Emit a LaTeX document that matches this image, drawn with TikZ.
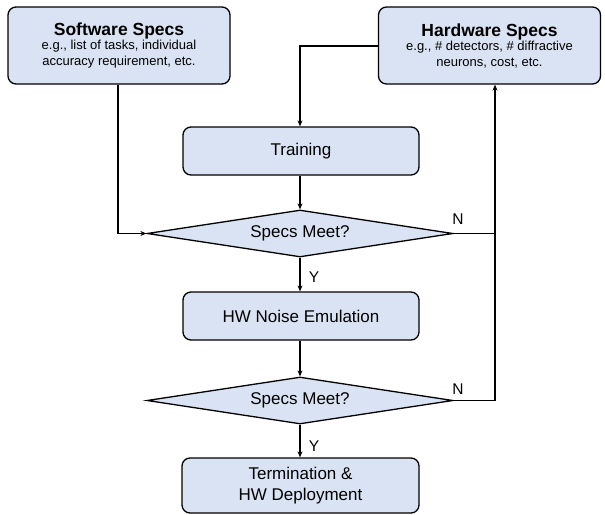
\documentclass[tikz,border=0pt]{standalone}
\usepackage{fontspec}
\setmainfont{Liberation Sans}
\usetikzlibrary{shapes.geometric,arrows.meta}
\definecolor{boxfill}{RGB}{218,227,243}
\tikzset{
  proc/.style={draw=black, line width=1.3pt, fill=boxfill, rounded corners=8pt, align=center, inner sep=0pt},
  dec/.style={draw=black, line width=1.3pt, fill=boxfill, diamond, aspect=6.5, inner sep=0pt, minimum width=306pt, minimum height=47pt},
  conn/.style={line width=1.5pt, draw=black},
  arr/.style={conn, -{Stealth[length=6pt,width=5pt]}},
  lab/.style={font=\fontsize{15.5}{18}\selectfont, inner sep=0pt},
  spec/.style={proc, minimum width=222pt, minimum height=77pt, font=\fontsize{13}{15.5}\selectfont},
}
\begin{document}
\begin{tikzpicture}[x=1pt,y=-1pt]
\useasboundingbox (0,0) rectangle (605,514);
\fill[white] (0,0) rectangle (605,514);
\node[spec] (sw) at (119,45.5)
  {{\fontsize{17.5}{20}\selectfont\bfseries Software Specs}\\[-1pt]
   e.g., list of tasks, individual\\
   accuracy requirement, etc.};
\node[spec] (hw) at (489.5,45.5)
  {{\fontsize{17.5}{20}\selectfont\bfseries Hardware Specs}\\[-1pt]
   e.g., \# detectors, \# diffractive\\
   neurons, cost, etc.};
\node[proc, minimum width=236pt, minimum height=48pt, font=\fontsize{17}{20}\selectfont] (train) at (301,151) {Training};
\node[dec, font=\fontsize{17}{20}\selectfont] (d1) at (300,233.5) {Specs Meet?};
\node[proc, minimum width=236pt, minimum height=48pt, font=\fontsize{17}{20}\selectfont] (noise) at (301,316) {HW Noise Emulation};
\node[dec, font=\fontsize{17}{20}\selectfont] (d2) at (300,400.5) {Specs Meet?};
\node[proc, minimum width=237pt, minimum height=55pt, font=\fontsize{17}{21}\selectfont] (term) at (300.5,485.5) {Termination \&\\HW Deployment};
\coordinate (swc) at (118,233.5);
\coordinate (hwc) at (300,46);
\coordinate (j1) at (495,233.5);
\coordinate (j2) at (495,400.5);
\draw[arr] (sw.south -| swc) -- (swc) -- (d1.west);
\draw[arr] (hw.west |- hwc) -- (hwc) -- (train.north -| hwc);
\draw[arr] (train.south -| d1) -- (d1.north);
\draw[arr] (d1.south) -- (noise.north -| d1);
\draw[arr] (noise.south -| d2) -- (d2.north);
\draw[arr] (d2.south) -- (term.north -| d2);
\draw[conn] (d1.east) -- (j1);
\draw[arr] (d2.east) -- (j2) -- (hw.south -| j2);
\node[lab] (n1) at (458,219) {N};
\node[lab] (n2) at (458,389) {N};
\node[lab] (y1) at (314,277) {Y};
\node[lab] (y2) at (314,446) {Y};
\end{tikzpicture}
\end{document}
